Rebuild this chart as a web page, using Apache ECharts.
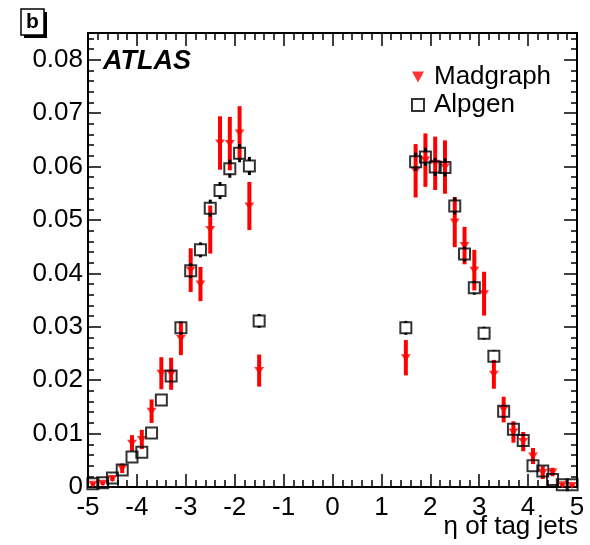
<!DOCTYPE html>
<html>
<head>
<meta charset="utf-8">
<script src="https://cdn.jsdelivr.net/npm/echarts@6/dist/echarts.min.js"></script>
<style>
  html, body { margin: 0; padding: 0; background: #fff; }
  #chart { width: 590px; height: 545px; }
</style>
</head>
<body>
<div id="chart"></div>
<script>
// Bin centres in eta of the tag jets (bins of 0.2, central gap |eta| < 1.4)
const eta = [
  -4.9, -4.7, -4.5, -4.3, -4.1, -3.9, -3.7, -3.5, -3.3, -3.1, -2.9, -2.7, -2.5, -2.3, -2.1, -1.9, -1.7, -1.5,
   1.5,  1.7,  1.9,  2.1,  2.3,  2.5,  2.7,  2.9,  3.1,  3.3,  3.5,  3.7,  3.9,  4.1,  4.3,  4.5,  4.7,  4.9
];

// Alpgen: normalised distribution and statistical uncertainty
const alpgen = [
  0.0006, 0.0008, 0.0017, 0.0032, 0.0056, 0.0065, 0.0101, 0.0163, 0.0208, 0.0298, 0.0405, 0.0444, 0.0522, 0.0555, 0.0596, 0.0625, 0.0601, 0.0311,
  0.0298, 0.0609, 0.0618, 0.0599, 0.0598, 0.0526, 0.0436, 0.0373, 0.0288, 0.0245, 0.0142, 0.0108, 0.0087, 0.0040, 0.0030, 0.0014, 0.0004, 0.0004
];
const alpgenErr = [
  0.0002, 0.0002, 0.0003, 0.0004, 0.0005, 0.0006, 0.0007, 0.0009, 0.0010, 0.0012, 0.0014, 0.0014, 0.0016, 0.0016, 0.0017, 0.0017, 0.0017, 0.0013,
  0.0013, 0.0017, 0.0017, 0.0017, 0.0017, 0.0016, 0.0014, 0.0013, 0.0012, 0.0011, 0.0009, 0.0008, 0.0007, 0.0006, 0.0005, 0.0003, 0.0002, 0.0002
];

// Madgraph: normalised distribution and statistical uncertainty
const madgraph = [
  0.0005, 0.0007, 0.0016, 0.0035, 0.0082, 0.0089, 0.0142, 0.0213, 0.0212, 0.0278, 0.0406, 0.0380, 0.0482, 0.0644, 0.0643, 0.0663, 0.0526, 0.0218,
  0.0242, 0.0592, 0.0612, 0.0606, 0.0599, 0.0496, 0.0452, 0.0406, 0.0362, 0.0211, 0.0145, 0.0103, 0.0085, 0.0058, 0.0027, 0.0028, 0.0004, 0.0003
];
const madgraphErr = [
  0.0003, 0.0003, 0.0005, 0.0009, 0.0015, 0.0018, 0.0022, 0.0030, 0.0030, 0.0031, 0.0041, 0.0032, 0.0045, 0.0050, 0.0050, 0.0050, 0.0045, 0.0030,
  0.0033, 0.0050, 0.0050, 0.0050, 0.0050, 0.0047, 0.0035, 0.0038, 0.0041, 0.0027, 0.0024, 0.0020, 0.0018, 0.0015, 0.0012, 0.0008, 0.0003, 0.0002
];

const xTicks = { min: -5, max: 5, interval: 1 };
const yTicks = { min: 0, max: 0.085, interval: 0.01, minor: 0.002 };

const FONT = '"Liberation Sans", Arial, Helvetica, sans-serif';
const RED = '#ff0000';
const TRI = 'path://M0,0 L10,0 L5,9 Z';

const madPts = eta.map((x, i) => [x, madgraph[i], madgraphErr[i]]);
const alpPts = eta.map((x, i) => [x, alpgen[i], alpgenErr[i]]);

// vertical error bar, optionally leaving a gap where the marker sits
function errorBar(color, width, gap) {
  return function (params, api) {
    const x = api.value(0), y = api.value(1), e = api.value(2);
    const top = api.coord([x, y + e]);
    const bot = api.coord([x, Math.max(0, y - e)]);
    const mid = api.coord([x, y]);
    const style = { stroke: color, lineWidth: width };
    const kids = [];
    if (gap > 0) {
      if (top[1] < mid[1] - gap) kids.push({ type: 'line', shape: { x1: mid[0], y1: top[1], x2: mid[0], y2: mid[1] - gap }, style });
      if (bot[1] > mid[1] + gap) kids.push({ type: 'line', shape: { x1: mid[0], y1: mid[1] + gap, x2: mid[0], y2: bot[1] }, style });
    } else {
      kids.push({ type: 'line', shape: { x1: mid[0], y1: top[1], x2: mid[0], y2: bot[1] }, style });
    }
    return { type: 'group', children: kids };
  };
}

const GRID = { left: 88, top: 33, width: 489, height: 454 };

function xAxisDef(pos, labels) {
  return {
    type: 'value', position: pos, gridIndex: 0,
    min: xTicks.min, max: xTicks.max, interval: xTicks.interval,
    axisLine: { show: true, onZero: false, lineStyle: { color: '#000', width: 2 } },
    axisTick: { show: true, inside: true, length: 13, lineStyle: { color: '#000', width: 1.5 } },
    minorTick: { show: true, splitNumber: 5, length: 7, lineStyle: { color: '#000', width: 1.5 } },
    axisLabel: labels ? { show: true, margin: 8, fontSize: 26, color: '#000', fontFamily: FONT } : { show: false },
    splitLine: { show: false }
  };
}
function yAxisDef(pos, labels, minorOnly) {
  return {
    type: 'value', position: pos, gridIndex: 0,
    min: yTicks.min, max: yTicks.max, interval: minorOnly ? yTicks.minor : yTicks.interval,
    axisLine: { show: !minorOnly, onZero: false, lineStyle: { color: '#000', width: 2 } },
    axisTick: { show: true, inside: true, length: minorOnly ? 6 : 13, lineStyle: { color: '#000', width: 1.5 } },
    axisLabel: labels ? {
      show: true, margin: 5, fontSize: 26, color: '#000', fontFamily: FONT,
      formatter: v => {
        const k = Math.round(v / yTicks.interval);
        if (Math.abs(v - k * yTicks.interval) > 1e-9) return '';
        return k === 0 ? '0' : v.toFixed(2);
      }
    } : { show: false },
    splitLine: { show: false }
  };
}

const chart = echarts.init(document.getElementById('chart'), null, { renderer: 'canvas' });
chart.setOption({
  animation: false,
  backgroundColor: '#fff',
  grid: GRID,
  xAxis: [xAxisDef('bottom', true), xAxisDef('top', false)],
  yAxis: [yAxisDef('left', true, false), yAxisDef('left', false, true), yAxisDef('right', false, false), yAxisDef('right', false, true)],
  legend: {
    orient: 'vertical', left: 411, top: 64, itemGap: 2, padding: 0,
    itemWidth: 12, itemHeight: 12,
    textStyle: { fontSize: 26, lineHeight: 24, color: '#000', fontFamily: FONT, padding: [0, 0, 0, 5] },
    data: [
      { name: 'Madgraph', icon: TRI, itemStyle: { color: RED, borderWidth: 0 } },
      { name: 'Alpgen', icon: 'rect', itemStyle: { color: 'rgba(0,0,0,0)', borderColor: '#000', borderWidth: 2 } }
    ]
  },
  series: [
    { name: 'madErr', type: 'custom', xAxisIndex: 0, yAxisIndex: 0, data: madPts, renderItem: errorBar(RED, 4, 0), z: 2 },
    {
      name: 'Madgraph', type: 'scatter', xAxisIndex: 0, yAxisIndex: 0, data: madPts.map(p => [p[0], p[1]]),
      symbol: TRI, symbolSize: [10, 7],
      itemStyle: { color: RED }, z: 3
    },
    { name: 'alpErr', type: 'custom', xAxisIndex: 0, yAxisIndex: 0, data: alpPts, renderItem: errorBar('#000', 3, 5), z: 4 },
    {
      name: 'Alpgen', type: 'scatter', xAxisIndex: 0, yAxisIndex: 0, data: alpPts.map(p => [p[0], p[1]]),
      symbol: 'rect', symbolSize: 11,
      itemStyle: { color: 'rgba(0,0,0,0)', borderColor: '#000', borderWidth: 2 }, z: 5
    }
  ],
  graphic: [
    { type: 'rect', shape: { x: 24, y: 12, width: 23, height: 26 }, style: { fill: '#000' }, z: 10 },
    { type: 'rect', shape: { x: 21, y: 9, width: 23, height: 26 }, style: { fill: '#fff', stroke: '#000', lineWidth: 1.5 }, z: 11 },
    { type: 'text', x: 32.5, y: 22, style: { text: 'b', font: 'bold 21px ' + FONT, fill: '#000', align: 'center', verticalAlign: 'middle' }, z: 12 },
    { type: 'text', x: 103, y: 62, style: { text: 'ATLAS', font: 'italic bold 27px ' + FONT, fill: '#000', align: 'left', verticalAlign: 'middle' }, z: 12 },
    { type: 'text', x: 578, y: 527, style: { text: 'η of tag jets', font: '26px ' + FONT, fill: '#000', align: 'right', verticalAlign: 'middle' }, z: 12 }
  ]
});
</script>
</body>
</html>
